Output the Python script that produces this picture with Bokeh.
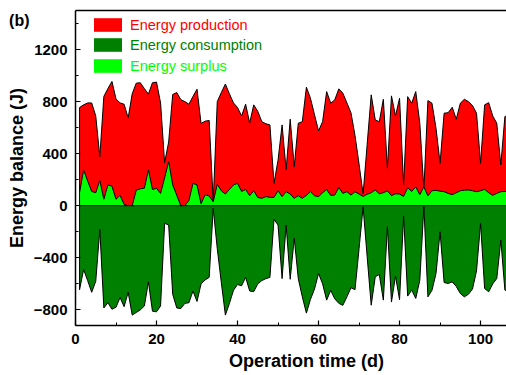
import numpy as np
from bokeh.plotting import figure
from bokeh.models import Range1d, FixedTicker, Legend, LegendItem, LinearAxis
from bokeh.embed import file_html
from bokeh.resources import INLINE

days = list(range(1, 108))

production = [755, 775, 790, 790, 690, 375, 840, 900, 955, 820,
              790, 780, 675, 860, 942, 945, 900, 858, 945, 950,
              790, 330, 490, 855, 870, 815, 800, 780, 840, 895,
              632, 650, 655, 30, 800, 870, 935, 860, 790, 755,
              690, 780, 635, 775, 725, 646, 630, 621, 172, 350,
              621, 275, 665, 300, 634, 646, 911, 826, 700, 575,
              646, 877, 788, 813, 898, 865, 790, 715, 540, 320,
              90, 470, 852, 659, 646, 818, 288, 844, 690, 826,
              159, 838, 788, 877, 634, 125, 808, 788, 595, 326,
              711, 715, 757, 665, 788, 818, 800, 770, 711, 326,
              775, 792, 690, 634, 313, 685, 698]

surplus = [100, 275, 190, 110, 100, 195, 50, 160, 150, 50,
           80, 10, 0, 0, 120, 130, 135, 275, 125, 134,
           95, 215, 340, 160, 80, 0, 0, 40, 172, 160,
           15, 85, 75, 30, 165, 115, 90, 125, 160, 172,
           110, 125, 77, 115, 64, 57, 70, 65, 64, 115,
           70, 108, 90, 57, 77, 57, 80, 108, 77, 70,
           100, 125, 80, 82, 140, 95, 108, 82, 108, 90,
           72, 88, 100, 121, 92, 100, 115, 78, 92, 90,
           72, 138, 110, 145, 85, 145, 76, 115, 118, 112,
           108, 95, 85, 100, 115, 120, 121, 115, 108, 115,
           126, 100, 80, 95, 108, 110, 113]

consumption = [-645, -490, -575, -665, -580, -182, -785, -745, -795, -780,
               -705, -775, -665, -840, -820, -800, -770, -585, -810, -815,
               -770, -135, -148, -680, -785, -790, -750, -745, -655, -735,
               -600, -570, -550, -20, -330, -590, -840, -750, -650, -605,
               -615, -550, -655, -660, -600, -575, -560, -550, -105, -148,
               -560, -148, -565, -250, -560, -700, -825, -720, -640, -520,
               -600, -725, -650, -715, -750, -765, -700, -630, -645, -330,
               -8, -390, -764, -545, -528, -725, -161, -740, -540, -722,
               -80, -694, -648, -712, -572, -5, -700, -650, -520, -200,
               -590, -597, -585, -620, -674, -700, -680, -640, -500, -135,
               -636, -661, -600, -559, -264, -648, -660]

x_ticks = [0, 20, 40, 60, 80, 100]
x_minor = [0, 10, 20, 30, 40, 50, 60, 70, 80, 90, 100]
y_ticks = [-800, -400, 0, 400, 800, 1200]
y_minor = list(range(-800, 1500, 200))

labels = ["Energy production", "Energy consumption", "Energy surplus"]
colors = ["#FF0000", "#008000", "#00FF00"]
label_colors = ["#FF0000", "#008000", "#00FF00"]
panel_tag = "(b)"
x_title = "Operation time (d)"
y_title = "Energy balance (J)"
# the original x axis runs past the cropped right edge; its title sits at ~57 d
x_title_at = 57

FONT = "Liberation Sans"

p = figure(width=506, height=375, output_backend="svg", toolbar_location=None,
           x_range=Range1d(0, 106.4), y_range=Range1d(-920, 1500),
           min_border_left=75, min_border_right=0, min_border_top=10,
           min_border_bottom=50)
p.grid.visible = False
p.outline_line_color = None

x = np.array(days, dtype=float)
P = np.array(production, dtype=float)
S = np.array(surplus, dtype=float)
C = np.array(consumption, dtype=float)
z = np.zeros_like(x)

r_prod = p.varea(x=x, y1=z, y2=P, fill_color=colors[0])
p.line(np.r_[x[0], x, x[-1]], np.r_[0, P, 0], line_color="black", line_width=1)
r_surp = p.varea(x=x, y1=z, y2=S, fill_color=colors[2])
p.line(np.r_[x[0], x, x[-1]], np.r_[0, S, 0], line_color="black", line_width=1)
r_cons = p.varea(x=x, y1=C, y2=z, fill_color=colors[1])
p.line(np.r_[x[0], x, x[-1], x[0]], np.r_[0, C, 0, 0], line_color="black", line_width=1)

xa = p.xaxis[0]
ya = p.yaxis[0]
xa.ticker = FixedTicker(ticks=x_ticks, minor_ticks=x_minor)
ya.ticker = FixedTicker(ticks=y_ticks, minor_ticks=y_minor)
for ax in (xa, ya):
    ax.major_tick_in = 5
    ax.major_tick_out = 0
    ax.minor_tick_in = 3
    ax.minor_tick_out = 0
    ax.axis_line_width = 1.5
    ax.major_tick_line_width = 1.2
    ax.major_label_text_font = FONT
    ax.major_label_text_font_style = "bold"
    ax.major_label_text_font_size = "15px"
    ax.major_label_text_color = "black"
    ax.axis_label_text_font = FONT
    ax.axis_label_text_font_style = "bold"
    ax.axis_label_text_font_size = "18px"
    ax.axis_label_text_color = "black"

xa.major_label_standoff = 8
ya.major_label_standoff = 8
ya.axis_label = y_title
ya.axis_label_standoff = 4


def text_axis(text, pos, rng_name=None, size="15px", standoff=0):
    kw = {} if rng_name is None else {"y_range_name": rng_name}
    ax = LinearAxis(ticker=FixedTicker(ticks=[pos], minor_ticks=[]),
                    major_label_overrides={pos: text}, **kw)
    ax.axis_line_color = None
    ax.major_tick_line_color = None
    ax.minor_tick_line_color = None
    ax.major_tick_in = 0
    ax.major_tick_out = 0
    ax.major_label_standoff = standoff
    ax.major_label_text_font = FONT
    ax.major_label_text_font_style = "bold"
    ax.major_label_text_font_size = size
    ax.major_label_text_color = "black"
    return ax


# x-axis title (off-centre, as in the cropped original)
p.add_layout(text_axis(x_title, x_title_at, size="18px", standoff=4), "below")

# top frame line
top = LinearAxis(ticker=FixedTicker(ticks=[], minor_ticks=[]))
top.axis_line_width = 1.5
top.major_tick_line_color = None
top.minor_tick_line_color = None
top.major_tick_out = 0
top.major_tick_in = 0
top.major_label_standoff = 0
p.add_layout(top, "above")

# panel tag "(b)"
p.extra_y_ranges = {"tag": Range1d(0, 315)}
p.add_layout(text_axis(panel_tag, 305, rng_name="tag", size="16px", standoff=-26), "left")

rends = [r_prod, r_cons, r_surp]
ypos = [292, 272, 251]
for r, lab, col, yy in zip(rends, labels, label_colors, ypos):
    leg = Legend(items=[LegendItem(label=lab, renderers=[r])], location=(15, yy))
    leg.label_text_color = col
    leg.label_text_font = FONT
    leg.label_text_font_size = "14.5px"
    leg.glyph_width = 35
    leg.glyph_height = 17
    leg.label_height = 17
    leg.label_standoff = 5
    leg.padding = 0
    leg.margin = 0
    leg.spacing = 0
    leg.border_line_color = None
    leg.background_fill_alpha = 0
    p.add_layout(leg)

open("out.html", "w").write(file_html(p, INLINE))
